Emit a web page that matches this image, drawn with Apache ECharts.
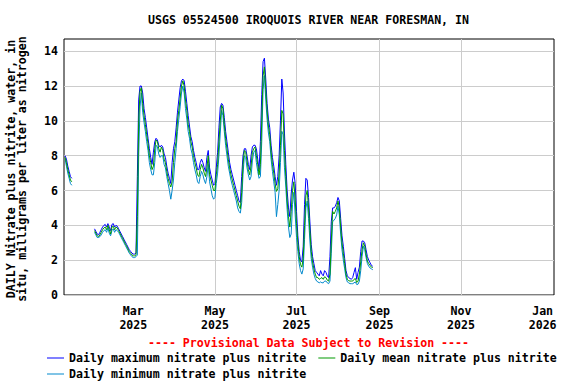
<!DOCTYPE html>
<html><head><meta charset="utf-8">
<script src="https://cdn.jsdelivr.net/npm/echarts@6/dist/echarts.min.js"></script>
<style>html,body{margin:0;padding:0;background:#fff}#c{width:576px;height:384px}</style>
</head><body><div id="c"></div>
<script>
const chartTitle = 'USGS 05524500 IROQUOIS RIVER NEAR FORESMAN, IN';
const yNameLines = ['DAILY Nitrate plus nitrite, water, in', 'situ, milligrams per liter as nitrogen'];
const noteText = '---- Provisional Data Subject to Revision ----';
const seriesNames = ['Daily maximum nitrate plus nitrite', 'Daily mean nitrate plus nitrite', 'Daily minimum nitrate plus nitrite'];
const seriesColors = ['#0000ff', '#009900', '#0088cc'];
const xTickDates = ['2025-03-01', '2025-05-01', '2025-07-01', '2025-09-01', '2025-11-01', '2026-01-01'];
const monthNames = ['Jan','Feb','Mar','Apr','May','Jun','Jul','Aug','Sep','Oct','Nov','Dec'];
const yTicks = [0, 2, 4, 6, 8, 10, 12, 14];

// daily blocks: each starts at the given date (block 0 is followed by a data gap)
const blockStarts = ['2025-01-09', '2025-01-31', '2025-03-01', '2025-04-01', '2025-05-01', '2025-06-01', '2025-07-01', '2025-08-01'];

const maxBlocks = [
  [8.0, 7.8, 7.4, 7.1, 6.8, 6.7],
  [3.8, 3.65,3.5,3.45,3.6,3.75,3.9,4.0,4.05,3.9,4.1, 3.9,3.7,4.05,4.1,3.9,4.0,3.95,3.8,3.65,3.5, 3.35,3.2,3.05,2.9,2.75,2.6,2.5,2.4],
  [2.35,2.35,2.4,6.8,11.2,12.0,12.0,11.6,10.7,10.2, 9.6,9.0,8.4,7.9,7.5,8.2,8.8,9.0,8.9,8.6, 8.5,8.6,8.5,8.1,7.9,7.4,7.0,6.7,6.4,7.6, 8.4],
  [8.8,9.6,10.5,11.2,11.9,12.3,12.4,12.3,11.7,11.0, 10.3,9.7,9.1,8.8,8.3,7.9,7.6,7.2,7.2, 7.6,7.8,7.6,7.3,7.1,7.9,8.3,7.3,6.9,6.6,6.3],
  [6.4,7.3,8.2,9.6,10.8,11.0,10.9,10.2,9.4,8.8, 8.2,7.6,7.2,6.9,6.6,6.3,6.0,5.7,5.4,5.3, 6.8,8.0,8.4,8.4,8.0,7.5,7.2,8.0,8.5,8.6, 8.6],
  [8.4,7.8,7.2,8.8,11.5,13.4,13.6,12.4,11.0,10.1, 9.6,8.6,7.9,7.4,6.8,6.3,6.8,8.0,10.0,12.4, 11.6,9.3,7.5,6.0,5.0,4.5,5.8,6.6,7.05,6.4],
  [4.8,3.4,2.5,2.0,1.9,2.8,5.2,6.7,6.6,5.6, 4.2,2.9,2.2,1.8,1.4,1.3,1.2,1.1,1.4,1.2, 1.1,1.4,1.3,1.1,1.0,2.2,4.2,5.0,5.0,5.1, 5.3],
  [5.6,5.4,4.4,3.4,2.8,2.1,1.4,1.1,1.0,0.95, 0.9,1.0,1.3,1.57,0.9,1.3,1.6,2.5,3.1,3.1, 3.0,2.6,2.2,2.0,1.85,1.7,1.65]
];

const meanBlocks = [
  [7.9, 7.6, 7.2, 6.9, 6.6, 6.5],
  [3.7, 3.55,3.4,3.35,3.45,3.6,3.75,3.85,3.9,3.75,4.0, 3.75,3.5,3.9,3.95,3.75,3.9,3.85,3.7,3.55,3.4, 3.25,3.1,2.95,2.8,2.65,2.5,2.4,2.3],
  [2.25,2.25,2.3,4.5,10.0,11.7,11.9,11.0,10.3,9.8, 9.2,8.7,8.0,7.6,7.2,7.4,8.4,8.9,8.8,8.4, 8.2,8.5,8.3,7.8,7.6,7.1,6.7,6.4,6.2,6.5, 7.6],
  [8.4,8.8,10.0,10.6,11.3,12.0,12.3,12.0,11.2,10.6, 9.8,9.4,8.8,8.5,8.0,7.6,7.3,6.9,6.8, 7.2,7.5,7.3,7.0,6.8,7.3,8.0,6.9,6.6,6.3,6.0],
  [6.0,6.9,7.5,8.8,10.0,10.9,10.7,9.8,9.0,8.4, 7.8,7.3,6.9,6.6,6.3,6.0,5.7,5.4,5.1,4.95, 5.9,7.5,8.3,8.2,7.7,7.2,6.9,7.4,8.2,8.4, 8.5],
  [8.0,7.5,6.9,7.5,10.0,12.6,13.1,11.8,10.6,9.7, 9.2,8.2,7.5,7.0,6.4,5.95,6.1,7.0,8.6,10.6, 10.4,8.3,6.8,5.4,4.5,3.9,4.8,6.0,6.5,5.5],
  [4.1,3.0,2.2,1.75,1.6,2.1,4.0,5.7,6.0,5.0, 3.7,2.5,1.9,1.5,1.2,1.0,1.0,0.9,0.95,1.0, 0.9,1.05,1.0,0.85,0.8,1.2,3.1,4.8,4.65,4.8, 5.0],
  [5.4,5.0,3.9,3.0,2.4,1.8,1.2,0.9,0.82,0.8, 0.8,0.8,0.9,0.95,0.72,0.8,1.2,1.9,2.6,3.0, 2.8,2.35,1.95,1.8,1.7,1.6,1.57]
];

const minBlocks = [
  [7.8, 7.4, 7.0, 6.7, 6.4, 6.3],
  [3.6, 3.45,3.3,3.3,3.35,3.45,3.6,3.7,3.75,3.6,3.85, 3.55,3.4,3.7,3.8,3.6,3.75,3.7,3.6,3.45,3.3, 3.15,3.0,2.85,2.7,2.55,2.4,2.3,2.2],
  [2.15,2.15,2.2,2.3,8.0,10.8,11.6,10.5,9.9,9.4, 8.8,8.3,7.6,7.2,6.9,6.9,7.6,8.6,8.5,8.1, 7.9,8.0,8.0,7.5,7.3,6.8,6.4,6.0,5.5,6.0, 6.6],
  [7.6,8.4,9.4,10.1,10.8,11.6,12.0,11.6,10.7,10.1, 9.4,9.0,8.4,8.1,7.6,7.2,6.9,6.5,6.4, 6.8,7.1,6.9,6.6,6.4,6.8,7.5,6.5,6.1,5.7,5.5],
  [5.6,6.4,7.0,8.0,9.3,10.6,10.3,9.4,8.6,8.0, 7.4,7.0,6.6,6.3,6.0,5.7,5.4,5.0,4.8,4.7, 5.3,6.9,8.0,7.9,7.3,6.9,6.6,6.8,7.7,8.2, 8.3],
  [7.6,7.1,6.7,6.8,8.8,11.8,12.6,11.2,10.1,9.3, 8.8,7.8,7.1,6.5,5.9,4.5,5.2,6.0,7.6,9.4, 9.2,7.3,6.2,4.9,3.9,3.3,3.5,5.2,5.9,4.6],
  [3.3,2.5,1.8,1.4,1.2,1.5,3.2,5.0,5.4,4.4, 3.1,2.1,1.6,1.2,0.95,0.8,0.75,0.7,0.75,0.7, 0.7,0.8,0.8,0.7,0.65,0.8,2.4,4.2,4.3,4.4, 4.6],
  [5.1,4.6,3.5,2.6,2.0,1.5,1.0,0.75,0.7,0.65, 0.65,0.65,0.7,0.75,0.6,0.62,0.8,1.4,2.2,2.8, 2.6,2.15,1.8,1.65,1.55,1.5,1.45]
];

const DAY = 86400000;
function utc(s) { return Date.parse(s + 'T00:00:00Z'); }
function buildPairs(blocks) {
  const out = [];
  blocks.forEach((b, bi) => {
    const t0 = utc(blockStarts[bi]);
    b.forEach((v, i) => out.push([t0 + i * DAY, v]));
    if (bi === 0) out.push([t0 + b.length * DAY, '-']);
  });
  return out;
}

const FONT_FAMILY = '"DejaVu Sans Mono", monospace';
const FONT = 'bold 11.6px ' + FONT_FAMILY;
const tickStamps = xTickDates.map(utc);

const chart = echarts.init(document.getElementById('c'), null, { renderer: 'svg' });
const textBase = { fontFamily: FONT_FAMILY, fontWeight: 'bold', fontSize: 11.6, color: '#000' };

chart.setOption({
  animation: false,
  backgroundColor: '#fff',
  grid: { left: 64, top: 39, right: 22, bottom: 89, show: true, borderColor: '#000', borderWidth: 1, backgroundColor: 'transparent' },
  xAxis: {
    type: 'value',
    min: utc('2025-01-08') + 4 * 3600000,
    max: utc('2026-01-09') + 12 * 3600000,
    axisLine: { show: false },
    axisTick: { show: false, customValues: tickStamps },
    splitLine: { show: true, showMinLine: false, showMaxLine: false, lineStyle: { color: '#cccccc', width: 1 } },
    axisLabel: {
      customValues: tickStamps,
      margin: 9,
      lineHeight: 14,
      ...textBase,
      formatter: (v) => { const d = new Date(v); return monthNames[d.getUTCMonth()] + '\n' + d.getUTCFullYear(); }
    }
  },
  yAxis: {
    type: 'value',
    min: 0, max: 14.7, interval: 2,
    axisLine: { show: false },
    axisTick: { show: false },
    splitLine: { show: true, showMaxLine: false, lineStyle: { color: '#cccccc', width: 1 } },
    axisLabel: { showMaxLabel: false, margin: 6, ...textBase, formatter: (v) => (yTicks.indexOf(v) >= 0 ? String(v) : '') }
  },
  legend: [
    { left: 47, top: 352, padding: 0, itemWidth: 17, itemHeight: 1, itemGap: 12, icon: 'rect',
      data: [seriesNames[0], seriesNames[1]], textStyle: { ...textBase } },
    { left: 47, top: 368, padding: 0, itemWidth: 17, itemHeight: 1, icon: 'rect',
      data: [seriesNames[2]], textStyle: { ...textBase } }
  ],
  graphic: [
    { type: 'text', x: 308.5, y: 20, style: { text: chartTitle, font: FONT, fill: '#000', align: 'center', verticalAlign: 'middle', textAlign: 'center', textVerticalAlign: 'middle' } },
    { type: 'text', x: 11, y: 169, rotation: Math.PI / 2, style: { text: yNameLines[0], font: FONT, fill: '#000', align: 'center', verticalAlign: 'middle', textAlign: 'center', textVerticalAlign: 'middle' } },
    { type: 'text', x: 22, y: 169, rotation: Math.PI / 2, style: { text: yNameLines[1], font: FONT, fill: '#000', align: 'center', verticalAlign: 'middle', textAlign: 'center', textVerticalAlign: 'middle' } },
    { type: 'text', x: 308.5, y: 343, style: { text: noteText, font: FONT, fill: '#ff0000', align: 'center', verticalAlign: 'middle', textAlign: 'center', textVerticalAlign: 'middle' } }
  ],
  series: [
    { name: seriesNames[0], type: 'line', data: buildPairs(maxBlocks), symbol: 'none', showSymbol: false, connectNulls: false, color: seriesColors[0], lineStyle: { width: 1, color: seriesColors[0] } },
    { name: seriesNames[2], type: 'line', data: buildPairs(minBlocks), symbol: 'none', showSymbol: false, connectNulls: false, color: seriesColors[2], lineStyle: { width: 1, color: seriesColors[2] } },
    { name: seriesNames[1], type: 'line', data: buildPairs(meanBlocks), symbol: 'none', showSymbol: false, connectNulls: false, color: seriesColors[1], lineStyle: { width: 1, color: seriesColors[1] } }
  ]
});
</script>
</body></html>
